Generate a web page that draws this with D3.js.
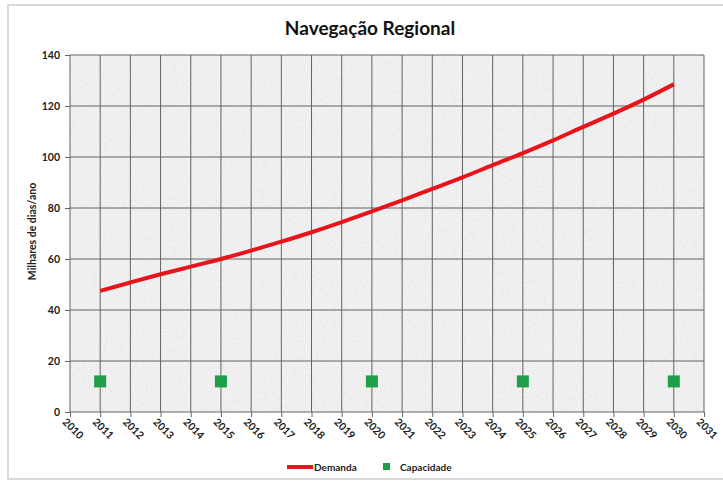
<!DOCTYPE html>
<html lang="pt">
<head>
<meta charset="utf-8">
<title>Navegação Regional</title>
<script src="https://cdn.jsdelivr.net/npm/d3@7/dist/d3.min.js"></script>
<style>
  body { margin: 0; background: #fff; }
  text { font-family: Lato, "Open Sans", sans-serif; }
  .axis path { display: none; }
  .axis line { stroke: #666; }
  .axis text { font-size: 10.5px; font-weight: bold; fill: #222; }
</style>
</head>
<body>
<svg width="723" height="483"></svg>
<script>
// data
var years = [2011, 2012, 2013, 2014, 2015, 2016, 2017, 2018, 2019, 2020,
             2021, 2022, 2023, 2024, 2025, 2026, 2027, 2028, 2029, 2030];
var demanda = [47.5, 50.8, 54, 57, 60, 63.3, 66.8, 70.5, 74.5, 78.7,
               83, 87.5, 92, 96.8, 101.5, 106.5, 111.8, 117, 122.5, 128.5];
var capYears = [2011, 2015, 2020, 2025, 2030];
var capacidade = [12, 12, 12, 12, 12];
var yTicks = [0, 20, 40, 60, 80, 100, 120, 140];
var xTicks = d3.range(2010, 2032);

var svg = d3.select("svg"),
    margin = {top: 55, right: 19, bottom: 71, left: 70},
    width = 723 - margin.left - margin.right,
    height = 483 - margin.top - margin.bottom;

// outer frame
svg.append("rect")
    .attr("x", 8).attr("y", 5)
    .attr("width", 730).attr("height", 474)
    .attr("fill", "#fff")
    .attr("stroke", "#d9d9d9")
    .attr("stroke-width", 2);

// granite texture
var defs = svg.append("defs");
var f = defs.append("filter").attr("id", "grain")
    .attr("x", 0).attr("y", 0).attr("width", "100%").attr("height", "100%");
f.append("feTurbulence")
    .attr("type", "fractalNoise")
    .attr("baseFrequency", 0.9)
    .attr("numOctaves", 2)
    .attr("seed", 3);
f.append("feColorMatrix")
    .attr("type", "matrix")
    .attr("values", "0 0 0 0 0.6  0 0 0 0 0.6  0 0 0 0 0.6  1.0 0 0 0 -0.48");

var g = svg.append("g")
    .attr("transform", "translate(" + margin.left + "," + margin.top + ")");

var x = d3.scaleLinear().domain([2010, 2031]).range([0, width]);
var y = d3.scaleLinear().domain([0, 140]).range([height, 0]);

g.append("rect")
    .attr("width", width).attr("height", height)
    .attr("fill", "#f1f1f1");
g.append("rect")
    .attr("width", width).attr("height", height)
    .attr("filter", "url(#grain)");

// grid
g.selectAll(".vgrid")
  .data(xTicks)
  .enter().append("line")
    .attr("class", "vgrid")
    .attr("x1", function(d) { return x(d); })
    .attr("x2", function(d) { return x(d); })
    .attr("y1", 0).attr("y2", height)
    .attr("stroke", "#626262")
    .attr("stroke-width", 1);
g.selectAll(".hgrid")
  .data(yTicks)
  .enter().append("line")
    .attr("class", "hgrid")
    .attr("x1", 0).attr("x2", width)
    .attr("y1", function(d) { return y(d); })
    .attr("y2", function(d) { return y(d); })
    .attr("stroke", "#626262")
    .attr("stroke-width", 1);

// axes
g.append("g")
    .attr("class", "axis")
    .call(d3.axisLeft(y).tickValues(yTicks).tickSize(5).tickPadding(5));

var xa = g.append("g")
    .attr("class", "axis")
    .attr("transform", "translate(0," + height + ")")
    .call(d3.axisBottom(x).tickValues(xTicks).tickSize(5).tickFormat(d3.format("d")));
xa.selectAll("text")
    .attr("text-anchor", "start")
    .attr("dy", 0)
    .attr("transform", "translate(-3,5) rotate(45)");

// y title
svg.append("text")
    .attr("transform", "translate(36," + (margin.top + height / 2 - 2) + ") rotate(-90)")
    .attr("text-anchor", "middle")
    .style("font-size", "10.5px")
    .style("font-weight", "bold")
    .attr("fill", "#222")
    .text("Milhares de dias/ano");

// title
svg.append("text")
    .attr("x", 370).attr("y", 35)
    .attr("text-anchor", "middle")
    .style("font-size", "19px")
    .style("font-weight", "bold")
    .attr("fill", "#111")
    .text("Navegação Regional");

// demanda line
var line = d3.line()
    .x(function(d, i) { return x(years[i]); })
    .y(function(d) { return y(d); })
    .curve(d3.curveMonotoneX);
g.append("path")
    .datum(demanda)
    .attr("d", line)
    .attr("fill", "none")
    .attr("stroke", "#e8141b")
    .attr("stroke-width", 4);

// capacidade markers
g.selectAll(".cap")
  .data(capacidade)
  .enter().append("rect")
    .attr("class", "cap")
    .attr("x", function(d, i) { return x(capYears[i]) - 6; })
    .attr("y", function(d) { return y(d) - 6; })
    .attr("width", 12).attr("height", 12)
    .attr("fill", "#1e9e48");

// legend
var lg = svg.append("g").attr("transform", "translate(0,467)");
lg.append("line")
    .attr("x1", 287).attr("x2", 313)
    .attr("y1", 0).attr("y2", 0)
    .attr("stroke", "#e8141b").attr("stroke-width", 4);
lg.append("text")
    .attr("x", 314).attr("y", 3.5)
    .style("font-size", "10px").style("font-weight", "bold")
    .attr("fill", "#222")
    .text("Demanda");
lg.append("rect")
    .attr("x", 383).attr("y", -4)
    .attr("width", 7).attr("height", 7)
    .attr("fill", "#1e9e48");
lg.append("text")
    .attr("x", 400).attr("y", 3.5)
    .style("font-size", "10px").style("font-weight", "bold")
    .attr("fill", "#222")
    .text("Capacidade");
</script>
</body>
</html>
